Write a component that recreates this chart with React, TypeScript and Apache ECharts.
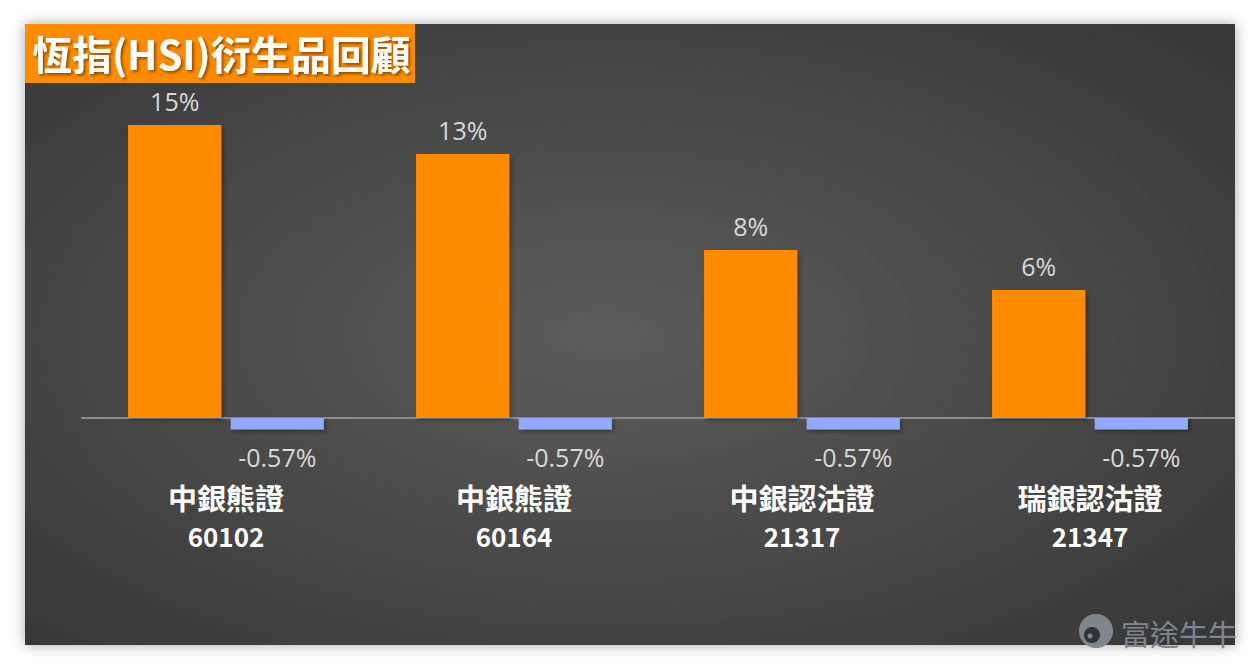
import React, { useEffect, useRef } from "react";
import * as echarts from "echarts";

const categories = ["中銀熊證\n60102", "中銀熊證\n60164", "中銀認沽證\n21317", "瑞銀認沽證\n21347"];
const derivativeReturns = [14.65, 13.2, 8.4, 6.4];
const indexReturns = [-0.57, -0.57, -0.57, -0.57];
const titleText = "恆指(HSI)衍生品回顧";
const watermarkText = "富途牛牛";

export default function App() {
  const ref = useRef<HTMLDivElement>(null);
  useEffect(() => {
    if (!ref.current) return;
    const chart = echarts.init(ref.current, undefined, { renderer: "svg" });
    const cjk = '"Noto Sans CJK TC", "Noto Sans", sans-serif';
    const num = '"Open Sans", "Noto Sans", sans-serif';
    chart.setOption({
      animation: false,
      backgroundColor: "#ffffff",
      graphic: [
        {
          type: "rect",
          z: -10,
          shape: { x: 25, y: 24, width: 1210, height: 621 },
          style: {
            fill: new echarts.graphic.RadialGradient(0.48, 0.5, 1.05, [
              { offset: 0, color: "#5c5c5c" },
              { offset: 1, color: "#252525" },
            ]),
            shadowBlur: 14,
            shadowColor: "rgba(0,0,0,0.35)",
          },
          silent: true,
        },
        {
          type: "rect",
          z: 10,
          shape: { x: 25, y: 24, width: 390, height: 59 },
          style: { fill: "#FF8C00" },
        },
        {
          type: "text",
          z: 11,
          x: 32,
          y: 53,
          style: {
            text: titleText,
            fill: "#ffffff",
            font: `bold 40px ${cjk}`,
            textVerticalAlign: "middle",
            textShadowColor: "rgba(0,0,0,0.45)",
            textShadowBlur: 3,
            textShadowOffsetX: 2,
            textShadowOffsetY: 2,
          },
        },
        {
          type: "circle",
          z: 11,
          shape: { cx: 1096, cy: 631, r: 17 },
          style: { fill: "#80868d" },
        },
        {
          type: "circle",
          z: 12,
          shape: { cx: 1092, cy: 635, r: 8 },
          style: { fill: "#333333" },
        },
        {
          type: "circle",
          z: 13,
          shape: { cx: 1090, cy: 636, r: 2.5 },
          style: { fill: "#80868d" },
        },
        {
          type: "text",
          z: 11,
          x: 1121,
          y: 633,
          style: {
            text: watermarkText,
            fill: "#80868d",
            font: `29px ${cjk}`,
            textVerticalAlign: "middle",
          },
        },
      ],
      grid: { left: 82, right: 25, top: 98, bottom: 231, containLabel: false },
      xAxis: {
        type: "category",
        data: categories,
        axisLine: { onZero: true, lineStyle: { color: "#8c8c8c", width: 2 } },
        axisTick: { show: false },
        axisLabel: {
          margin: 39,
          color: "#ffffff",
          fontFamily: cjk,
          formatter: (v: string) => {
            const [a, b] = v.split("\n");
            return `{a|${a}}\n{b|${b}}`;
          },
          rich: {
            a: { fontSize: 29, fontWeight: "bold", lineHeight: 39, color: "#ffffff", fontFamily: cjk },
            b: { fontSize: 26, fontWeight: "bold", lineHeight: 38, color: "#ffffff", fontFamily: cjk },
          },
        },
        splitLine: { show: false },
      },
      yAxis: {
        type: "value",
        min: -1,
        max: 16,
        show: false,
        splitLine: { show: false },
      },
      series: [
        {
          type: "bar",
          data: derivativeReturns,
          barGap: "10%",
          barCategoryGap: "32%",
          itemStyle: {
            color: "#FF8C00",
            shadowBlur: 4,
            shadowColor: "rgba(0,0,0,0.35)",
            shadowOffsetX: 2,
            shadowOffsetY: 2,
          },
          label: {
            show: true,
            position: "top",
            distance: 12,
            color: "#d9d9d9",
            fontSize: 25,
            fontFamily: num,
            formatter: (p: any) => Math.round(p.value) + "%",
          },
        },
        {
          type: "bar",
          data: indexReturns,
          itemStyle: {
            color: "#8FAAFF",
            shadowBlur: 4,
            shadowColor: "rgba(0,0,0,0.35)",
            shadowOffsetX: 2,
            shadowOffsetY: 2,
          },
          label: {
            show: true,
            position: "bottom",
            distance: 15,
            color: "#d9d9d9",
            fontSize: 25,
            fontFamily: num,
            formatter: (p: any) => p.value.toFixed(2) + "%",
          },
        },
      ],
    });
    return () => chart.dispose();
  }, []);
  return (
    <div
      ref={ref}
      style={{ position: "absolute", left: 0, top: 0, width: 1259, height: 669 }}
    />
  );
}
